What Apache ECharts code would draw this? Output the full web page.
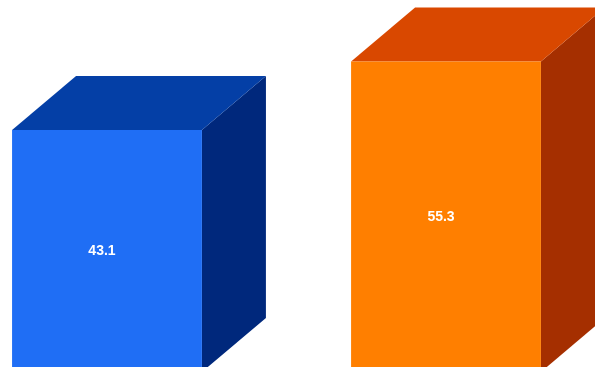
<!DOCTYPE html>
<html>
<head>
<meta charset="utf-8">
<script src="https://cdn.jsdelivr.net/npm/echarts@6/dist/echarts.min.js"></script>
<style>
  html, body { margin: 0; padding: 0; background: #ffffff; }
  #chart { width: 595px; height: 367px; }
</style>
</head>
<body>
<div id="chart"></div>
<script>
// Categories and their values
var categories = ['A', 'B'];
var values = [43.1, 55.3];

// Face colours per bar: front, top, side
var frontColors = ['#1F6EF5', '#FF7F00'];
var topColors = ['#043FA6', '#D94800'];
var sideColors = ['#00287C', '#A52F00'];

// Extrusion depth of each box in pixels
var DEPTH_X = 64;
var DEPTH_Y = 54;
// Box width as a fraction of the category spacing
var BOX_WIDTH = 0.56;

function renderBox(params, api) {
  var idx = params.dataIndex;
  var xVal = api.value(0);
  var yVal = api.value(1);
  var top = api.coord([xVal, yVal]);
  var base = api.coord([xVal, 0]);
  var w = api.size([BOX_WIDTH, 0])[0];
  var x0 = top[0] - w / 2;
  var x1 = top[0] + w / 2;
  var yt = top[1];
  var yb = base[1];

  var front = [[x0, yt], [x1, yt], [x1, yb], [x0, yb]];
  var topFace = [[x0, yt], [x0 + DEPTH_X, yt - DEPTH_Y], [x1 + DEPTH_X, yt - DEPTH_Y], [x1, yt]];
  var side = [[x1, yt], [x1 + DEPTH_X, yt - DEPTH_Y], [x1 + DEPTH_X, yb - DEPTH_Y], [x1, yb]];

  return {
    type: 'group',
    children: [
      { type: 'polygon', shape: { points: side }, style: { fill: sideColors[idx] } },
      { type: 'polygon', shape: { points: topFace }, style: { fill: topColors[idx] } },
      { type: 'polygon', shape: { points: front }, style: { fill: frontColors[idx] } },
      {
        type: 'text',
        x: (x0 + x1) / 2 - 5,
        y: (yt + yb) / 2,
        style: {
          text: yVal.toFixed(1),
          fill: '#ffffff',
          font: 'bold 14px "Liberation Sans"',
          align: 'center',
          verticalAlign: 'middle'
        }
      }
    ]
  };
}

var chart = echarts.init(document.getElementById('chart'), null, { renderer: 'canvas' });
chart.setOption({
  animation: false,
  backgroundColor: '#ffffff',
  grid: { left: 0, right: 0, top: 0, bottom: 0, containLabel: false },
  xAxis: {
    type: 'value',
    min: -0.3156,
    max: 1.4395,
    show: false
  },
  // The zero baseline sits a few pixels below the visible area
  yAxis: {
    type: 'value',
    min: 0.89,
    max: 66.25,
    show: false
  },
  series: [{
    type: 'custom',
    clip: false,
    renderItem: renderBox,
    data: categories.map(function (c, i) { return [i, values[i]]; })
  }]
});
</script>
</body>
</html>
